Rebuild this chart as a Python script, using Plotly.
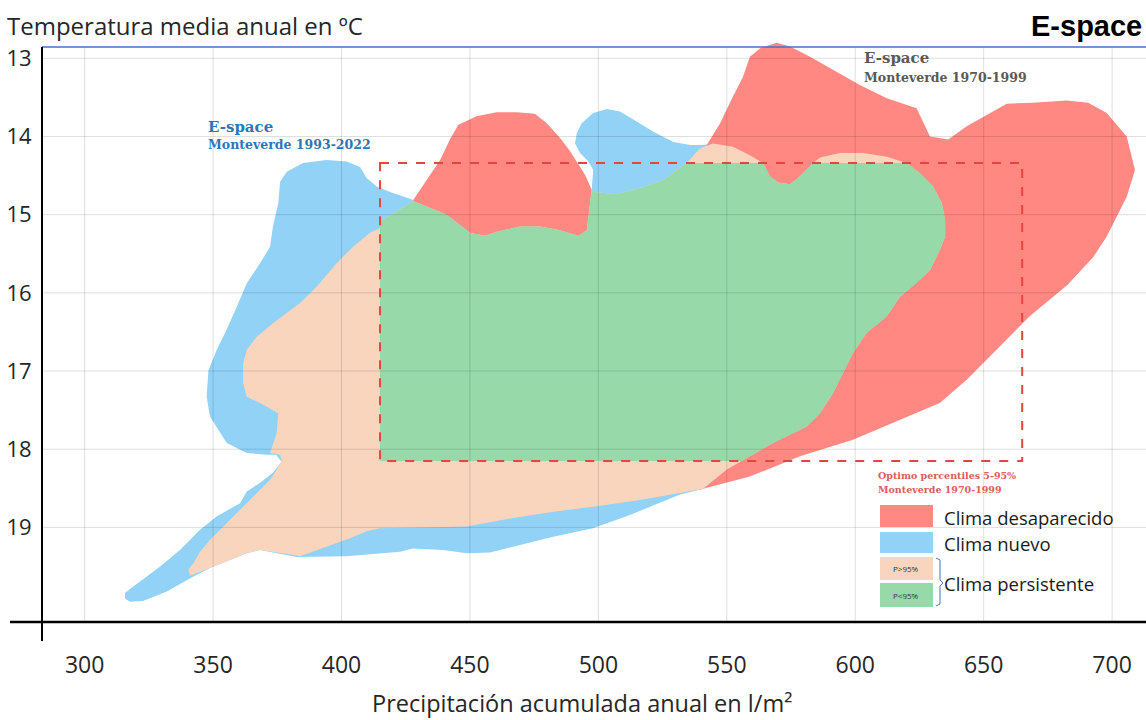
import plotly.graph_objects as go

# ---------------- data (x: precipitación l/m², y: temperatura ºC) ----------------
x_ticks = [300, 350, 400, 450, 500, 550, 600, 650, 700]
y_ticks = [13, 14, 15, 16, 17, 18, 19]

# Envolvente del clima 1993-2022 (Clima nuevo + zona compartida)
nuevo_x = [376.1, 378.7, 385.0, 394.2, 402.0, 407.2, 409.8, 413.7, 418.9, 427.8,
           439.5, 442.2, 450.0, 455.9, 460.4, 469.5, 477.3, 485.1, 492.2, 495.5,
           497.4, 498.0, 496.1, 492.9, 490.9, 491.6, 493.5, 498.0, 503.3, 508.4,
           514.9, 521.4, 529.2, 535.7, 540.9,
           544.6, 552.4, 559.0, 564.1, 566.8, 569.9, 574.6, 578.5, 583.6, 586.3,
           594.1, 603.0, 612.3, 620.0, 625.2, 630.3, 633.7, 635.0, 635.0, 633.0,
           629.1, 623.9, 617.4, 612.3, 604.5, 599.1, 595.2, 591.4, 586.3, 581.1,
           568.0, 556.3, 550.0, 540.7,
           531.8, 512.3, 497.9, 482.4, 469.5, 457.8, 448.8, 439.5, 427.8, 422.8,
           402.0, 382.6,
           368.3, 363.1, 348.8, 342.2,
           332.0, 322.7, 317.7, 315.7, 315.7, 318.8, 329.4, 337.1, 344.9, 351.4,
           360.5, 363.1, 368.3, 373.3, 376.7, 374.5,
           370.9, 363.1, 355.3, 352.7, 348.8, 347.5, 348.2, 351.4, 355.3, 359.2,
           363.1, 368.3, 372.2, 373.3, 375.4]
nuevo_y = [14.58, 14.45, 14.34, 14.30, 14.32, 14.39, 14.53, 14.64, 14.71, 14.81,
           14.98, 15.03, 15.23, 15.27, 15.22, 15.15, 15.15, 15.20, 15.27, 15.20,
           14.68, 14.43, 14.32, 14.21, 14.09, 13.96, 13.83, 13.70, 13.65, 13.68,
           13.81, 13.94, 14.07, 14.11, 14.11,
           14.09, 14.13, 14.24, 14.34, 14.51, 14.59, 14.61, 14.51, 14.34, 14.27,
           14.21, 14.21, 14.26, 14.34, 14.47, 14.64, 14.85, 15.07, 15.28, 15.45,
           15.71, 15.87, 16.05, 16.30, 16.51, 16.77, 17.02, 17.28, 17.54, 17.71,
           17.92, 18.14, 18.26, 18.51,
           18.58, 18.84, 19.01, 19.12, 19.22, 19.32, 19.33, 19.29, 19.27, 19.31,
           19.37, 19.38,
           19.29, 19.33, 19.52, 19.63,
           19.82, 19.94, 19.95, 19.91, 19.84, 19.76, 19.50, 19.29, 19.03, 18.86,
           18.69, 18.54, 18.43, 18.30, 18.16, 18.07,
           18.07, 18.05, 17.92, 17.79, 17.58, 17.33, 16.99, 16.73, 16.47, 16.18,
           15.88, 15.62, 15.41, 15.15, 14.85]

# Clima desaparecido (1970-1999), lóbulo central
desap_a_x = [428.0, 433.2, 438.4, 442.2, 445.5, 452.6, 460.4, 468.2, 475.3, 479.9,
             485.1, 489.0, 491.6, 494.8, 497.4, 496.7, 496.0, 428.0]
desap_a_y = [14.81, 14.56, 14.30, 14.04, 13.85, 13.74, 13.69, 13.69, 13.71, 13.83,
             14.02, 14.19, 14.32, 14.49, 14.68, 14.94, 15.45, 15.45]

# Clima desaparecido (1970-1999), lóbulo derecho
desap_b_x = [542.2, 547.4, 552.4, 556.3, 559.0, 563.0, 569.4, 574.6, 582.4, 591.3,
             601.8, 612.3, 623.9, 629.1, 636.2, 643.4, 651.2, 659.0, 669.2, 682.3,
             690.7, 697.9, 705.7, 708.3, 708.9, 705.7, 701.8, 697.9, 692.7, 682.6,
             667.9, 656.2, 643.4, 632.9, 617.4, 599.1, 578.5, 559.0, 539.3, 545.0,
             575.0, 545.0, 542.0]
desap_b_y = [14.11, 13.83, 13.49, 13.24, 12.98, 12.87, 12.80, 12.85, 12.98, 13.15,
             13.34, 13.51, 13.64, 14.00, 14.04, 13.87, 13.73, 13.58, 13.57, 13.54,
             13.57, 13.70, 14.00, 14.34, 14.43, 14.77, 15.03, 15.28, 15.54, 15.90,
             16.30, 16.69, 17.11, 17.41, 17.63, 17.88, 18.09, 18.35, 18.52, 18.30,
             16.50, 15.50, 14.30]

# Clima persistente (zona compartida por ambos periodos)
persist_x = [415.0, 428.0,
             439.5, 442.2, 450.0, 455.9, 460.4, 469.5, 477.3, 485.1, 492.2, 495.5, 497.4,
             498.7, 507.1, 516.2, 525.2, 534.4, 539.6,
             544.6, 552.4, 559.0, 564.1, 566.8, 569.9, 574.6, 578.5, 583.6, 586.3,
             594.1, 603.0, 612.3, 620.0, 625.2, 630.3, 633.7, 635.0, 635.0, 633.0,
             629.1, 623.9, 617.4, 612.3, 604.5, 599.1, 595.2, 591.4, 586.3, 581.1,
             568.0, 556.3, 550.0, 540.7,
             531.8, 516.2, 499.4, 482.4, 466.8, 448.8, 430.6, 415.0, 409.8, 403.3,
             383.9, 381.1, 368.3, 363.1, 348.8, 341.0, 340.4,
             342.3, 344.9, 348.8, 352.7, 357.9, 363.1, 368.3, 372.2, 374.8, 376.7,
             376.1, 372.2,
             374.8, 375.3, 368.3, 363.1, 361.7, 361.7, 363.1, 367.0, 374.8, 383.9,
             390.4, 398.1, 404.5, 411.1, 415.0]
persist_y = [15.09, 14.83,
             14.98, 15.03, 15.23, 15.27, 15.22, 15.15, 15.15, 15.20, 15.27, 15.20, 14.68,
             14.71, 14.74, 14.66, 14.56, 14.34, 14.15,
             14.09, 14.13, 14.24, 14.34, 14.51, 14.59, 14.61, 14.51, 14.34, 14.27,
             14.21, 14.21, 14.26, 14.34, 14.47, 14.64, 14.85, 15.07, 15.28, 15.45,
             15.71, 15.87, 16.05, 16.30, 16.51, 16.77, 17.02, 17.28, 17.54, 17.71,
             17.92, 18.14, 18.26, 18.51,
             18.56, 18.65, 18.73, 18.80, 18.88, 18.99, 19.00, 19.01, 19.05, 19.14,
             19.37, 19.35, 19.29, 19.33, 19.52, 19.62, 19.54,
             19.46, 19.31, 19.16, 19.03, 18.86, 18.69, 18.52, 18.39, 18.26, 18.14,
             18.07, 18.05,
             17.79, 17.54, 17.41, 17.33, 17.15, 16.90, 16.73, 16.56, 16.35, 16.13,
             15.92, 15.62, 15.41, 15.23, 15.17]

# Óptimo percentiles 5-95% Monteverde 1970-1999
optimo_x = [415.0, 665.0]
optimo_y = [14.34, 18.15]

# ---------------- helpers ----------------
X_RANGE = [283.4, 713.2]
Y_RANGE = [20.21, 12.766]
PLOT_L, PLOT_R, PLOT_T, PLOT_B = 42, 1146, 40, 622


def paper(px, py):
    return ((px - PLOT_L) / (PLOT_R - PLOT_L), (PLOT_B - py) / (PLOT_B - PLOT_T))


def clip_poly(xs, ys, x0, x1, y0, y1):
    pts = list(zip(xs, ys))

    def clip(pts, inside, inter):
        out = []
        for i in range(len(pts)):
            cur, prev = pts[i], pts[i - 1]
            if inside(cur):
                if not inside(prev):
                    out.append(inter(prev, cur))
                out.append(cur)
            elif inside(prev):
                out.append(inter(prev, cur))
        return out

    def ix(xc):
        return lambda p, q: (xc, p[1] + (q[1] - p[1]) * (xc - p[0]) / (q[0] - p[0]))

    def iy(yc):
        return lambda p, q: (p[0] + (q[0] - p[0]) * (yc - p[1]) / (q[1] - p[1]), yc)

    pts = clip(pts, lambda p: p[0] >= x0, ix(x0))
    pts = clip(pts, lambda p: p[0] <= x1, ix(x1))
    pts = clip(pts, lambda p: p[1] >= y0, iy(y0))
    pts = clip(pts, lambda p: p[1] <= y1, iy(y1))
    return [p[0] for p in pts], [p[1] for p in pts]


RED = "#FF8882"
BLUE = "#92D2F6"
PEACH = "#F9D5BE"
GREEN = "#98D9A9"

fig = go.Figure()


def area(xs, ys, color, name):
    fig.add_trace(go.Scatter(x=xs + xs[:1], y=ys + ys[:1], mode="lines", fill="toself",
                             fillcolor=color, line=dict(width=0, color=color),
                             hoverinfo="skip", showlegend=False, name=name))


area(nuevo_x, nuevo_y, BLUE, "Clima nuevo")
area(desap_a_x, desap_a_y, RED, "Clima desaparecido")
area(desap_b_x, desap_b_y, RED, "Clima desaparecido")
area(persist_x, persist_y, PEACH, "Clima persistente P>95%")
gx, gy = clip_poly(persist_x, persist_y, optimo_x[0], optimo_x[1], optimo_y[0], optimo_y[1])
area(gx, gy, GREEN, "Clima persistente P<95%")

shapes = []
top_line = paper(0, 47)[1]
# gridlines drawn over the areas
for xv in x_ticks:
    shapes.append(dict(type="line", xref="x", yref="paper", x0=xv, x1=xv, y0=0, y1=top_line,
                       line=dict(color="rgba(0,0,0,0.13)", width=1), layer="above"))
for yv in y_ticks:
    shapes.append(dict(type="line", xref="paper", yref="y", x0=0, x1=1, y0=yv, y1=yv,
                       line=dict(color="rgba(0,0,0,0.13)", width=1), layer="above"))
# optimum box
shapes.append(dict(type="rect", xref="x", yref="y", x0=optimo_x[0], x1=optimo_x[1],
                   y0=optimo_y[0], y1=optimo_y[1], line=dict(color="#E2463F", width=2, dash="dash"),
                   fillcolor="rgba(0,0,0,0)", layer="above"))
# frame lines
shapes.append(dict(type="line", xref="paper", yref="paper", x0=0, x1=1, y0=top_line, y1=top_line,
                   line=dict(color="#4A72B8", width=1.5), layer="above"))
p0 = paper(42, 47); p1 = paper(42, 641)
shapes.append(dict(type="line", xref="paper", yref="paper", x0=p0[0], x1=p1[0], y0=p0[1], y1=p1[1],
                   line=dict(color="black", width=2), layer="above"))
p0 = paper(10, 622); p1 = paper(1146, 622)
shapes.append(dict(type="line", xref="paper", yref="paper", x0=p0[0], x1=p1[0], y0=p0[1], y1=p1[1],
                   line=dict(color="black", width=2.5), layer="above"))

# legend swatches
for (ty, by), col in zip([(505, 527), (532, 553), (557, 580), (583, 607)], [RED, BLUE, PEACH, GREEN]):
    a = paper(880, ty); b = paper(933, by)
    shapes.append(dict(type="rect", xref="paper", yref="paper", x0=a[0], x1=b[0], y0=b[1], y1=a[1],
                       fillcolor=col, line=dict(width=0), layer="above"))
# bracket
bpts = [(936, 558), (940, 560), (940, 580), (943, 583), (940, 586), (940, 604), (936, 606)]
path = "M " + " L ".join("%.5f,%.5f" % paper(px, py) for px, py in bpts)
shapes.append(dict(type="path", xref="paper", yref="paper", path=path,
                   line=dict(color="#4A72B8", width=1), layer="above"))

ann = []


def text(t, px, py, size, color="#262626", family="Open Sans", xanchor="left"):
    x, y = paper(px, py)
    ann.append(dict(text=t, x=x, y=y, xref="paper", yref="paper", xanchor=xanchor, yanchor="middle",
                    showarrow=False, borderpad=0, font=dict(size=size, color=color, family=family)))


text("Temperatura media anual en ºC", 6, 25, 24)
text("Precipitación acumulada anual en l/m²", 582, 703, 23.5, xanchor="center")
text("<b>E-space</b>", 1143, 26, 29, color="black", family="Liberation Sans", xanchor="right")
text("<b>E-space</b>", 207, 127, 15, color="#2E75B6", family="DejaVu Serif")
text("<b>Monteverde 1993-2022</b>", 207, 144, 12.5, color="#2E75B6", family="DejaVu Serif")
text("<b>E-space</b>", 863, 58, 15, color="#595959", family="DejaVu Serif")
text("<b>Monteverde 1970-1999</b>", 863, 77, 12.5, color="#595959", family="DejaVu Serif")
text("<b>Optimo percentiles 5-95%</b>", 877, 475, 9.5, color="#D6605C", family="DejaVu Serif")
text("<b>Monteverde 1970-1999</b>", 877, 489, 9.5, color="#D6605C", family="DejaVu Serif")
text("Clima desaparecido", 943, 517, 18.5, color="#1a1a1a")
text("Clima nuevo", 943, 543, 18.5, color="#1a1a1a")
text("Clima persistente", 943, 583, 18.5, color="#1a1a1a")
text("P>95%", 906, 568, 8, color="#333333", xanchor="center")
text("P<95%", 906, 595, 8, color="#333333", xanchor="center")

fig.update_layout(
    width=1146, height=720,
    margin=dict(l=PLOT_L, r=1146 - PLOT_R, t=PLOT_T, b=720 - PLOT_B),
    paper_bgcolor="white", plot_bgcolor="white",
    shapes=shapes, annotations=ann,
    font=dict(family="Open Sans", color="#262626"),
    xaxis=dict(range=X_RANGE, tickvals=x_ticks, ticktext=[str(v) for v in x_ticks],
               showgrid=False, zeroline=False, showline=False,
               ticks="outside", ticklen=22, tickcolor="rgba(0,0,0,0)",
               tickfont=dict(size=23, color="#262626")),
    yaxis=dict(range=Y_RANGE, tickvals=y_ticks, ticktext=[str(v) for v in y_ticks],
               showgrid=False, zeroline=False, showline=False,
               ticks="outside", ticklen=5, tickcolor="rgba(0,0,0,0)",
               tickfont=dict(size=22, color="#262626")),
)

fig.write_html("out.html", config={"displayModeBar": False},
               post_script="document.body.style.margin='0';document.body.style.padding='0';")
